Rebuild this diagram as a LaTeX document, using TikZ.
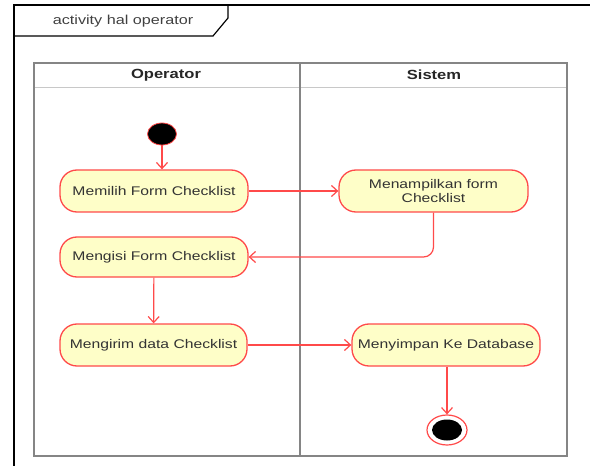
\documentclass[tikz,border=0pt]{standalone}
\usepackage{fontspec}
\usetikzlibrary{arrows.meta,shapes.geometric}
\newfontfamily\umlfont[FakeStretch=1.25]{Liberation Sans}
\definecolor{actfill}{HTML}{FEFEC8}
\definecolor{actred}{HTML}{FF4A4A}
\definecolor{lanegray}{HTML}{858585}
\definecolor{sepgray}{HTML}{C8C8C8}
\definecolor{txt}{HTML}{333333}
\tikzset{
  act/.style={draw=actred, line width=1.3bp, fill=actfill, rounded corners=17bp,
    minimum height=42bp, text=txt, align=center, inner sep=2bp,
    font=\umlfont\fontsize{12.6}{14.5}\selectfont},
  flow/.style={draw=actred, line width=1.2bp, -{Straight Barb[length=6bp,width=11bp,line width=1.2bp]}},
  lane/.style={draw=lanegray, line width=2bp},
  hdr/.style={font=\umlfont\bfseries\fontsize{13.3}{15}\selectfont, text=black!85},
  startnode/.style={ellipse, fill=black, draw=actred, line width=0.8bp, minimum width=29bp, minimum height=22bp, inner sep=0pt},
}
\begin{document}
\begin{tikzpicture}[x=1bp,y=-1bp]
\useasboundingbox (0,0) rectangle (590,466);
% outer frame and tab
\draw[black, line width=1.2bp] (14,466) -- (14,5) -- (590,5);
\draw[black, line width=1.2bp] (14,36) -- (213,36) -- (228,18) -- (228,5);
\node[font=\umlfont\fontsize{13}{15}\selectfont, text=black!75] (title) at (123,21) {activity hal operator};
% swimlanes
\draw[sepgray, line width=1bp] (34,88) -- (567,88);
\draw[lane] (34,63) rectangle (567,456);
\draw[lane] (300,63) -- (300,456);
\node[hdr] (hop) at (166,75) {Operator};
\node[hdr] (hsi) at (434,75) {Sistem};
% nodes
\node[startnode] (start) at (162,134) {};
\node[act, minimum width=188bp] (n1) at (154,191) {Memilih Form Checklist};
\node[act, minimum width=189bp] (n2) at (433.5,191) {Menampilkan form\\Checklist};
\node[act, minimum width=188bp, minimum height=40bp] (n3) at (154,257) {Mengisi Form Checklist};
\node[act, minimum width=187bp] (n4) at (153.5,345) {Mengirim data Checklist};
\node[act, minimum width=188bp] (n5) at (446,345) {Menyimpan Ke Database};
\node[ellipse, draw=actred, line width=1.2bp, fill=white, minimum width=40bp, minimum height=30bp, inner sep=0pt] (end) at (447,430) {};
\node[ellipse, fill=black, minimum width=30bp, minimum height=21bp, inner sep=0pt] (endin) at (447,430) {};
% connectors
\draw[flow] (start) -- (start |- n1.north);
\draw[flow] (n1) -- (n2);
\draw[flow, rounded corners=10bp] (n2.south) |- (n3.east);
\draw[flow] (n3) -- (n4);
\draw[flow] (n4) -- (n5);
\draw[flow] (n5.south -| end.north) -- (end.north);
\end{tikzpicture}
\end{document}
